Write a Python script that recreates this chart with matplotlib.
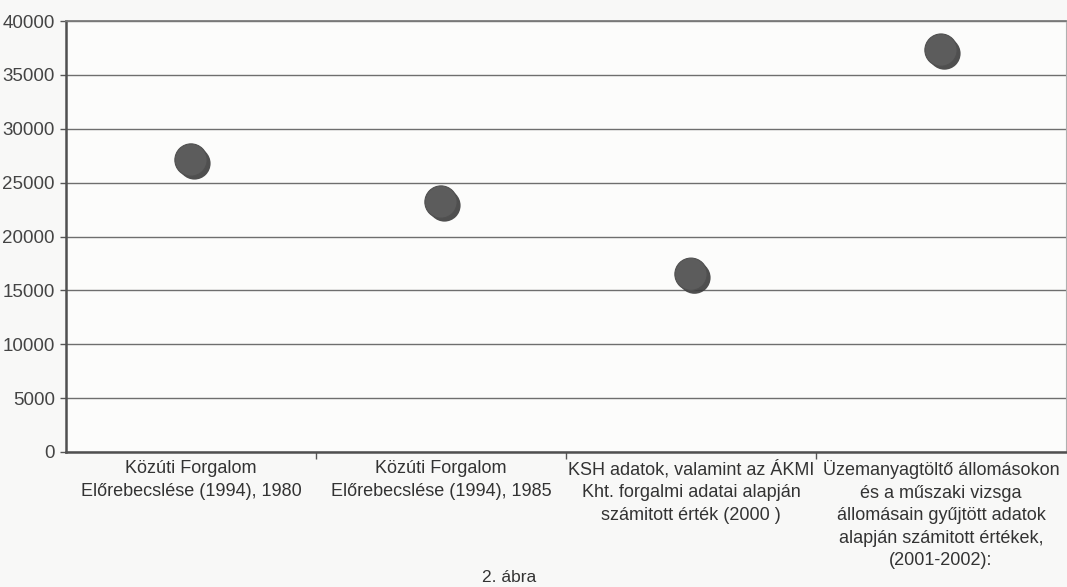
import matplotlib
matplotlib.use("Agg")
import matplotlib.pyplot as plt
import matplotlib.patheffects as pe

plt.rcParams["font.family"] = ["Liberation Sans", "DejaVu Sans"]

CATEGORIES = [
    "Közúti Forgalom\nElőrebecslése (1994), 1980",
    "Közúti Forgalom\nElőrebecslése (1994), 1985",
    "KSH adatok, valamint az ÁKMI\nKht. forgalmi adatai alapján\nszámitott érték (2000 )",
    "Üzemanyagtöltő állomásokon\nés a műszaki vizsga\nállomásain gyűjtött adatok\nalapján számitott értékek,\n(2001-2002):",
]
VALUES = [27100, 23200, 16500, 37300]
Y_TICKS = [0, 5000, 10000, 15000, 20000, 25000, 30000, 35000, 40000]

W, H = 1067, 587
fig = plt.figure(figsize=(W / 100, H / 100), dpi=100, facecolor="#f8f8f7")
ax = fig.add_axes([66 / W, (H - 452) / H, 1000 / W, 431 / H])
ax.set_facecolor("#fcfcfb")

x = list(range(len(CATEGORIES)))
ax.set_xlim(-0.5, len(CATEGORIES) - 0.5)
ax.set_ylim(0, 40000)

# gridlines
ax.set_yticks(Y_TICKS)
ax.yaxis.grid(True, color="#6e6e6e", linewidth=1.0)
ax.set_axisbelow(True)
ax.set_yticklabels([str(v) for v in Y_TICKS], fontsize=13.5, color="#444444")
ax.tick_params(axis="y", length=4, width=1, color="#555555", pad=4)

# category labels at centres, tick marks between categories
ax.set_xticks(x)
ax.set_xticklabels(CATEGORIES, fontsize=13, color="#333333", linespacing=1.42, va="top")
ax.tick_params(axis="x", which="major", length=0, pad=6)
ax.set_xticks([i + 0.5 for i in x[:-1]], minor=True)
ax.tick_params(axis="x", which="minor", length=5, width=1, color="#555555")

for side in ["left", "bottom"]:
    ax.spines[side].set_color("#505050")
    ax.spines[side].set_linewidth(1.8)
ax.spines["top"].set_color("#7a7a7a")
ax.spines["top"].set_linewidth(1.3)
ax.spines["right"].set_color("#b0b0b0")
ax.spines["right"].set_linewidth(0.8)

# data points with a soft shadow
pts = ax.scatter(x, VALUES, s=540, color="#5c5c5c", edgecolors="#505050",
                 linewidths=0.8, zorder=3)
pts.set_path_effects([pe.SimplePatchShadow(offset=(2.5, -2.5), shadow_rgbFace="#3c3c3c",
                                           alpha=0.9), pe.Normal()])

fig.text(482 / W, 1 - 577 / H, "2. ábra", fontsize=12.5, color="#333333",
         ha="left", va="center")

fig.savefig("out.png", dpi=100, facecolor=fig.get_facecolor())
